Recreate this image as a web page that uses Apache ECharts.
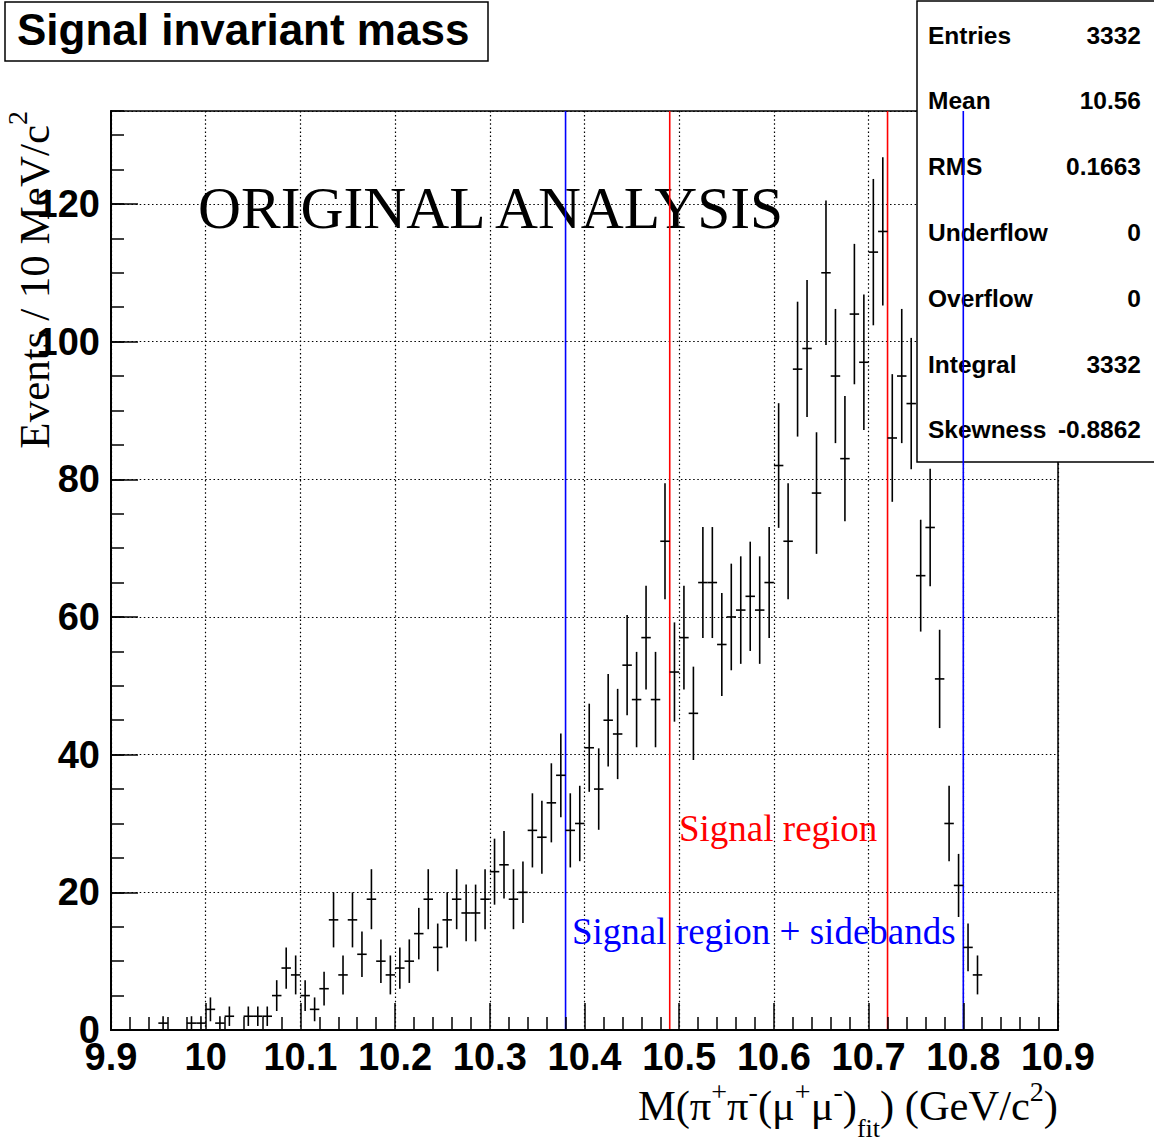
<!DOCTYPE html>
<html>
<head>
<meta charset="utf-8">
<title>Signal invariant mass</title>
<script src="https://cdn.jsdelivr.net/npm/echarts@6/dist/echarts.min.js"></script>
<style>
  html, body { margin: 0; padding: 0; background: #fff; }
  #chart { width: 1154px; height: 1145px; }
</style>
</head>
<body>
<div id="chart"></div>
<script>
// Bin centres (GeV/c^2) of the non-empty 10 MeV bins and their entries
const massBins = [9.955, 9.985, 9.995, 10.005, 10.015, 10.025, 10.045, 10.055, 10.065, 10.075,
  10.085, 10.095, 10.105, 10.115, 10.125, 10.135, 10.145, 10.155, 10.165, 10.175,
  10.185, 10.195, 10.205, 10.215, 10.225, 10.235, 10.245, 10.255, 10.265, 10.275,
  10.285, 10.295, 10.305, 10.315, 10.325, 10.335, 10.345, 10.355, 10.365, 10.375,
  10.385, 10.395, 10.405, 10.415, 10.425, 10.435, 10.445, 10.455, 10.465, 10.475,
  10.485, 10.495, 10.505, 10.515, 10.525, 10.535, 10.545, 10.555, 10.565, 10.575,
  10.585, 10.595, 10.605, 10.615, 10.625, 10.635, 10.645, 10.655, 10.665, 10.675,
  10.685, 10.695, 10.705, 10.715, 10.725, 10.735, 10.745, 10.755, 10.765, 10.775,
  10.785, 10.795, 10.805, 10.815];
const counts = [1, 1, 1, 3, 1, 2, 2, 2, 2, 5,
  9, 8, 5, 3, 6, 16, 8, 16, 11, 19,
  10, 8, 9, 10, 14, 19, 12, 16, 19, 17,
  17, 19, 23, 24, 19, 20, 29, 28, 33, 37,
  29, 30, 41, 35, 45, 43, 53, 48, 57, 48,
  71, 52, 57, 46, 65, 65, 56, 60, 61, 63,
  61, 65, 82, 71, 96, 99, 78, 110, 95, 83,
  104, 97, 113, 116, 86, 95, 91, 66, 73, 51,
  30, 21, 12, 8];
const binWidth = 0.01;

// Axis ranges
const xRange = [9.9, 10.9];
const yRange = [0, 133.5];

// Mass windows: outer pair = signal region + sidebands, inner pair = signal region
const windowEdges = [10.38, 10.49, 10.72, 10.80];
const windowColors = ['#0000ff', '#ff0000', '#ff0000', '#0000ff'];

// Statistics box
const statNames = ['Entries', 'Mean', 'RMS', 'Underflow', 'Overflow', 'Integral', 'Skewness'];
const statValues = ['3332', '10.56', '0.1663', '0', '0', '3332', '-0.8862'];

const SANS = "'Liberation Sans', Arial, Helvetica, sans-serif";
const SERIF = "'Liberation Serif', 'Times New Roman', Times, serif";

const histData = massBins.map((m, i) => [m, counts[i], Math.sqrt(counts[i])]);

function renderErrorBar(params, api) {
  const x = api.value(0), y = api.value(1), err = api.value(2);
  const c = api.coord([x, y]);
  const lo = api.coord([x - binWidth / 2, y - err]);
  const hi = api.coord([x + binWidth / 2, y + err]);
  const st = { stroke: '#000', lineWidth: 1.6 };
  return {
    type: 'group',
    children: [
      { type: 'line', shape: { x1: c[0], y1: lo[1], x2: c[0], y2: hi[1] }, style: st },
      { type: 'line', shape: { x1: lo[0], y1: c[1], x2: hi[0], y2: c[1] }, style: st }
    ]
  };
}

const gridLine = { show: true, lineStyle: { color: '#000', width: 1.2, type: [1.5, 2.6] } };

const chart = echarts.init(document.getElementById('chart'), null, { renderer: 'svg' });
chart.setOption({
  animation: false,
  backgroundColor: '#fff',
  grid: { left: 111, right: 96, top: 111, bottom: 115, show: true, borderColor: '#000', borderWidth: 1.5, backgroundColor: '#fff' },
  xAxis: {
    type: 'value', min: xRange[0], max: xRange[1], interval: 0.1,
    axisLine: { show: true, lineStyle: { color: '#000', width: 2 } },
    axisTick: { show: true, inside: true, length: 27, lineStyle: { color: '#000', width: 1.5 } },
    minorTick: { show: true, splitNumber: 5, length: 13, lineStyle: { color: '#000', width: 1.5 } },
    axisLabel: {
      color: '#000', fontFamily: SANS, fontWeight: 'bold', fontSize: 38, margin: 8,
      formatter: v => String(Math.round(v * 10) / 10)
    },
    splitLine: gridLine
  },
  yAxis: [
    {
      type: 'value', min: yRange[0], max: yRange[1], interval: 20, position: 'left',
      axisLine: { show: true, lineStyle: { color: '#000', width: 2 } },
      axisTick: { show: true, inside: true, length: 27, lineStyle: { color: '#000', width: 1.5 } },
      axisLabel: {
        color: '#000', fontFamily: SANS, fontWeight: 'bold', fontSize: 38, margin: 11, showMaxLabel: false,
        formatter: v => (Math.abs(v % 20) < 1e-9 ? String(Math.round(v)) : '')
      },
      splitLine: gridLine
    },
    {
      type: 'value', min: yRange[0], max: yRange[1], interval: 5, position: 'left',
      axisLine: { show: false },
      axisTick: { show: true, inside: true, length: 13, lineStyle: { color: '#000', width: 1.5 } },
      axisLabel: { show: false },
      splitLine: { show: false }
    }
  ],
  series: [
    {
      type: 'custom', name: 'signal', xAxisIndex: 0, yAxisIndex: 0, z: 2,
      renderItem: renderErrorBar,
      encode: { x: 0, y: 1 },
      data: histData
    }
  ]
});

// Overlay layer: annotations, title box, statistics box and mass-window lines.
// Everything sits in one group so the children paint strictly in list order.
const layer = [];
layer.push({
  type: 'text', x: 198, y: 208,
  style: { text: 'ORIGINAL ANALYSIS', font: '59.5px ' + SERIF, fill: '#000', verticalAlign: 'middle' }
});
layer.push({
  type: 'text', x: 679, y: 828,
  style: { text: 'Signal region', font: '37px ' + SERIF, fill: '#ff0000', verticalAlign: 'middle' }
});
layer.push({
  type: 'text', x: 572, y: 931,
  style: { text: 'Signal region + sidebands', font: '37px ' + SERIF, fill: '#0000ff', verticalAlign: 'middle' }
});
// axis titles
layer.push({
  type: 'text', x: 1058, y: 1105,
  style: {
    text: 'M(π{sup|+}π{sup|-}(μ{sup|+}μ{sup|-}){sub|fit}) (GeV/c{sup|2})',
    font: '42.5px ' + SERIF, fill: '#000', align: 'right', verticalAlign: 'middle',
    rich: {
      sup: { fontSize: 28, fontFamily: SERIF, fill: '#000', padding: [0, 0, 28, 0] },
      sub: { fontSize: 26, fontFamily: SERIF, fill: '#000', padding: [46, 0, 0, 0] }
    }
  }
});
layer.push({
  type: 'text', x: 34, y: 111, rotation: Math.PI / 2,
  style: {
    text: 'Events / 10 MeV/c{sup|2}',
    font: '43px ' + SERIF, fill: '#000', align: 'right', verticalAlign: 'middle',
    rich: {
      sup: { fontSize: 28, fontFamily: SERIF, fill: '#000', padding: [0, 0, 34, 0] }
    }
  }
});
// histogram title box
layer.push({
  type: 'rect',
  shape: { x: 5, y: 2, width: 483, height: 59 },
  style: { fill: '#fff', stroke: '#000', lineWidth: 1.5 }
});
layer.push({
  type: 'text', x: 17, y: 29,
  style: { text: 'Signal invariant mass', font: 'bold 44px ' + SANS, fill: '#000', verticalAlign: 'middle' }
});
// statistics box
layer.push({
  type: 'rect',
  shape: { x: 917, y: 1, width: 260, height: 461 },
  style: { fill: '#fff', stroke: '#000', lineWidth: 1.5 }
});
statNames.forEach((name, k) => {
  const y = 35 + k * 65.8;
  layer.push({
    type: 'text', x: 928, y: y,
    style: { text: name, font: 'bold 24.5px ' + SANS, fill: '#000', verticalAlign: 'middle', align: 'left' }
  });
  layer.push({
    type: 'text', x: 1141, y: y,
    style: { text: statValues[k], font: 'bold 24.5px ' + SANS, fill: '#000', verticalAlign: 'middle', align: 'right' }
  });
});
// mass-window lines, last in the list so they run across the statistics box
const yBottom = chart.convertToPixel({ yAxisIndex: 0 }, yRange[0]);
const yTop = chart.convertToPixel({ yAxisIndex: 0 }, yRange[1]);
windowEdges.forEach((edge, k) => {
  const px = chart.convertToPixel({ xAxisIndex: 0 }, edge);
  layer.push({
    type: 'rect',
    shape: { x: px - 0.8, y: yTop, width: 1.6, height: yBottom - yTop },
    style: { fill: windowColors[k] }
  });
});

chart.setOption({ graphic: [{ type: 'group', x: 0, y: 0, z: 20, children: layer }] });
</script>
</body>
</html>
